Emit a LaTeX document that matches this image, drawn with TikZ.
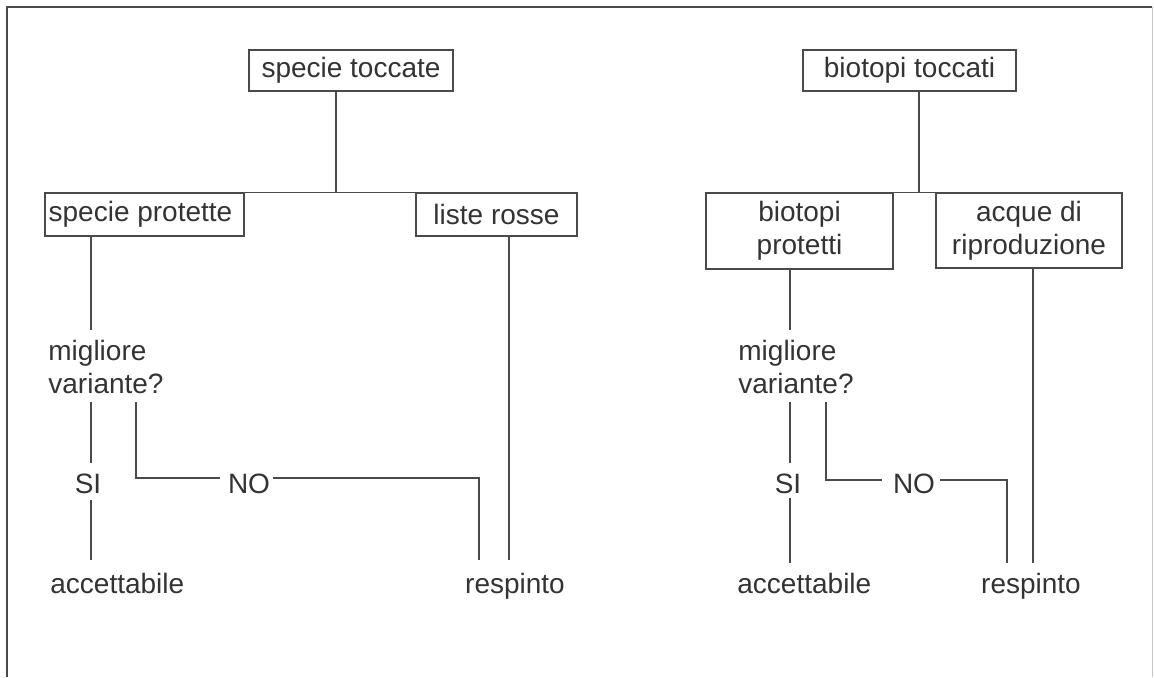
\documentclass[tikz,border=0pt]{standalone}
\usepackage{fontspec}
\setmainfont{Liberation Sans}
\definecolor{ink}{HTML}{333333}
\definecolor{lin}{HTML}{4A4A4A}
\begin{document}
\begin{tikzpicture}[x=0.5pt,y=-0.5pt,
  every node/.style={font=\fontsize{14}{16.5}\selectfont, text=ink, inner sep=0pt},
  box/.style={draw=lin, line width=0.8pt, align=center},
  conn/.style={draw=lin, line width=0.7pt},
  lbl/.style={anchor=base}]
\useasboundingbox (0,0) rectangle (1154,677);
% frame
\draw[lin, line width=1.1pt] (7,677) -- (7,7) -- (1152,7);
\draw[gray!45, line width=0.5pt] (1152,7) -- (1152,677);

% ---------------- left tree ----------------
\node[box, minimum width=102pt, minimum height=20.5pt] (st) at (351,70.5) {specie toccate};
\node[box, minimum width=99.5pt, minimum height=21.5pt] (sp) at (144.5,214.5) {\hspace*{-4pt}specie protette};
\node[box, minimum width=80.5pt, minimum height=21.5pt] (lr) at (496.5,214.5) {liste rosse};
\coordinate (jl) at (336,193);
\draw[conn] (st.south -| jl) -- (jl);
\draw[conn] (sp.north east) -- (lr.north west);

\node[anchor=base west, align=left] (dL) at (48,393) {migliore\\variante?};
\node[lbl] (siL) at (88,493) {SI};
\node[lbl] (noL) at (249,493) {NO};
\node[anchor=base west] (accL) at (50,593) {accettabile};
\node[lbl] (resL) at (515,593) {respinto};

\coordinate (sL) at (91,330);
\draw[conn] (sp.south -| sL) -- (sL);
\coordinate (siLa) at (91,402); \coordinate (siLb) at (91,463);
\draw[conn] (siLa) -- (siLb);
\coordinate (siLc) at (91,500); \coordinate (siLd) at (91,560);
\draw[conn] (siLc) -- (siLd);
\coordinate (noLa) at (136,402); \coordinate (noLb) at (136,478);
\coordinate (noLc) at (220,478);
\draw[conn] (noLa) -- (noLb) -- (noLc);
\coordinate (noLd) at (273,478); \coordinate (noLe) at (479,478); \coordinate (noLf) at (479,560);
\draw[conn] (noLd) -- (noLe) -- (noLf);
\coordinate (lrL) at (509,560);
\draw[conn] (lr.south -| lrL) -- (lrL);

% ---------------- right tree ----------------
\node[box, minimum width=106.5pt, minimum height=20.5pt] (bt) at (909.5,70.5) {biotopi toccati};
\node[box, minimum width=93.5pt, minimum height=38pt] (bp) at (799.5,231) {biotopi\\protetti};
\node[box, minimum width=93pt, minimum height=37.5pt] (aq) at (1029,230.5) {acque di\\riproduzione};
\coordinate (jr) at (919,193);
\draw[conn] (bt.south -| jr) -- (jr);
\draw[conn] (bp.north east) -- (aq.north west);

\node[anchor=base west, align=left] (dR) at (738,393) {migliore\\variante?};
\node[lbl] (siR) at (788,493) {SI};
\node[lbl] (noR) at (914,493) {NO};
\node[anchor=base west] (accR) at (737,593) {accettabile};
\node[lbl] (resR) at (1031,593) {respinto};

\coordinate (sR) at (790,330);
\draw[conn] (bp.south -| sR) -- (sR);
\coordinate (siRa) at (790,402); \coordinate (siRb) at (790,463);
\draw[conn] (siRa) -- (siRb);
\coordinate (siRc) at (790,498); \coordinate (siRd) at (790,563);
\draw[conn] (siRc) -- (siRd);
\coordinate (noRa) at (826,402); \coordinate (noRb) at (826,480);
\coordinate (noRc) at (882,480);
\draw[conn] (noRa) -- (noRb) -- (noRc);
\coordinate (noRd) at (940,480); \coordinate (noRe) at (1007,480); \coordinate (noRf) at (1007,563);
\draw[conn] (noRd) -- (noRe) -- (noRf);
\coordinate (aqR) at (1033,563);
\draw[conn] (aq.south -| aqR) -- (aqR);
\end{tikzpicture}
\end{document}
